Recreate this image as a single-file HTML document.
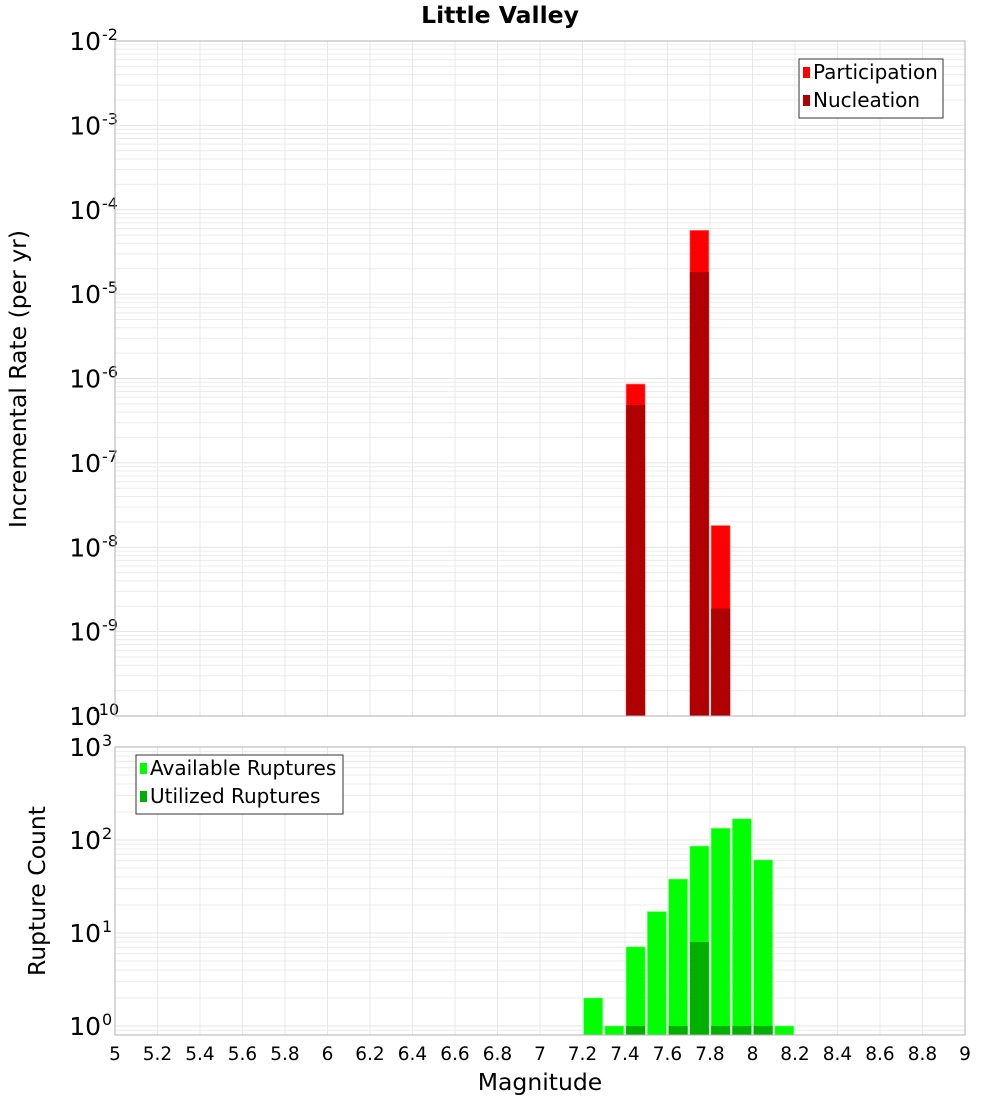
<!DOCTYPE html>
<html><head><meta charset="utf-8"><style>
body{margin:0;background:#fff;}
svg{font-family:"DejaVu Sans","Liberation Sans",sans-serif;}
</style></head><body>
<svg id="c" width="1000" height="1100" xmlns="http://www.w3.org/2000/svg">
<text x="500" y="23" text-anchor="middle" font-size="23.5" font-weight="bold">Little Valley</text>
<g id="g1"></g><g id="g2"></g>
</svg>
<script>
const xTicks=[5,5.2,5.4,5.6,5.8,6,6.2,6.4,6.6,6.8,7,7.2,7.4,7.6,7.8,8,8.2,8.4,8.6,8.8,9];
const rateMags=[7.45,7.75,7.85];
const participation=[8.6e-7,5.7e-5,1.81e-8];
const nucleation=[4.85e-7,1.83e-5,1.88e-9];
const countMags=[7.25,7.35,7.45,7.55,7.65,7.75,7.85,7.95,8.05,8.15];
const available=[2,1,7.1,17,38,86,134,169,61,1];
const utilized=[0,0,1,0,1,8,1,1,1,0];
const rateExps=[-10,-9,-8,-7,-6,-5,-4,-3,-2];
const countExps=[0,1,2,3];

const NS='http://www.w3.org/2000/svg';
const X0=115,X1=965;
const xs=m=>X0+(m-5)/(9-5)*(X1-X0);
const T0=41,T1=716;
const yTop=v=>T1-(Math.log10(v)+10)/8*(T1-T0);
const B0=747,B1=1035;
const yBot=v=>1026-Math.log10(v)*93;
function el(tag,attrs,parent){const e=document.createElementNS(NS,tag);for(const k in attrs)e.setAttribute(k,attrs[k]);parent.appendChild(e);return e;}
const g1=document.getElementById('g1'),g2=document.getElementById('g2');

function panel(g,top,bot,yf,exps,lo,hi,name){
  for(let e=lo;e<=hi;e++){for(let k=1;k<10;k++){const v=k*Math.pow(10,e);const y=yf(v);if(y<top-0.5||y>bot+0.5)continue;
    const l=el('line',{x1:X0,x2:X1,y1:y,y2:y,stroke:k==1?'#e4e4e4':'#ececec','stroke-width':1},g);
    
    }}
  xTicks.forEach(t=>{const x=xs(t);
    const l=el('line',{x1:x,x2:x,y1:top,y2:bot,stroke:'#e8e8e8'},g);
    
    });
  exps.forEach(e=>{const y=yf(Math.pow(10,e));
    const t=el('text',{x:101,y:y+9,'text-anchor':'end','font-size':25},g);
    
    
    t.textContent='10';
    const s=el('text',{x:e<=-10?93:102,y:y-1,'font-size':16},g);
    
    
    s.textContent=String(e);});
}
panel(g1,T0,T1,yTop,rateExps,-10,-3,'rate');
panel(g2,B0,B1,yBot,countExps,-1,2,'count');

const bw=19;
rateMags.forEach((m,i)=>{const x=xs(m)-bw/2;
  let y=yTop(participation[i]);
  const r=el('rect',{x:x,y:y,width:bw,height:T1-y,fill:'#ff0000',stroke:'#ff8080','stroke-width':0.6},g1);
  
  
  y=yTop(nucleation[i]);
  const n=el('rect',{x:x,y:y,width:bw,height:T1-y,fill:'#b00000'},g1);
  
  });
countMags.forEach((m,i)=>{const x=xs(m)-bw/2;
  let y=yBot(available[i]);
  const r=el('rect',{x:x,y:y,width:bw,height:B1-y,fill:'#00ff00',stroke:'#80ff80','stroke-width':0.6},g2);
  
  
  if(utilized[i]>0){y=yBot(utilized[i]);
  const n=el('rect',{x:x,y:y,width:bw,height:B1-y,fill:'#00b000'},g2);
  
  }});

[[T0,T1,'rate-plot-frame'],[B0,B1,'count-plot-frame']].forEach(([a,b,n])=>{
  const r=el('rect',{x:X0,y:a,width:X1-X0,height:b-a,fill:'none',stroke:'#b0b0b0'},document.getElementById('c'));
  
  });

const svg=document.getElementById('c');
xTicks.forEach(t=>{const tx=el('text',{x:xs(t),y:1060,'text-anchor':'middle','font-size':18.5},svg);
  
  
  tx.textContent=String(t);});
let t=el('text',{x:540,y:1090,'text-anchor':'middle','font-size':23.5},svg);


t.textContent='Magnitude';
t=el('text',{x:0,y:0,'text-anchor':'middle','font-size':23.5,transform:'translate(26,379) rotate(-90)'},svg);


t.textContent='Incremental Rate (per yr)';
t=el('text',{x:0,y:0,'text-anchor':'middle','font-size':23.5,transform:'translate(45,891) rotate(-90)'},svg);


t.textContent='Rupture Count';

function legend(x,y,w,items,name){
  const r=el('rect',{x:x,y:y,width:w,height:59,fill:'#fff',stroke:'#333'},svg);
  
  
  items.forEach(([c,label],i)=>{
    const s=el('rect',{x:x+4,y:y+8+i*28,width:7,height:11,fill:c},svg);
    
    
    const tx=el('text',{x:x+14,y:y+20+i*28,'font-size':20},svg);
    
    
    tx.textContent=label;});
}
legend(799,59,144,[['#ff0000','Participation'],['#b00000','Nucleation']],'rate-legend');
legend(136,755,207,[['#00ff00','Available Ruptures'],['#00b000','Utilized Ruptures']],'count-legend');
</script>
</body></html>
